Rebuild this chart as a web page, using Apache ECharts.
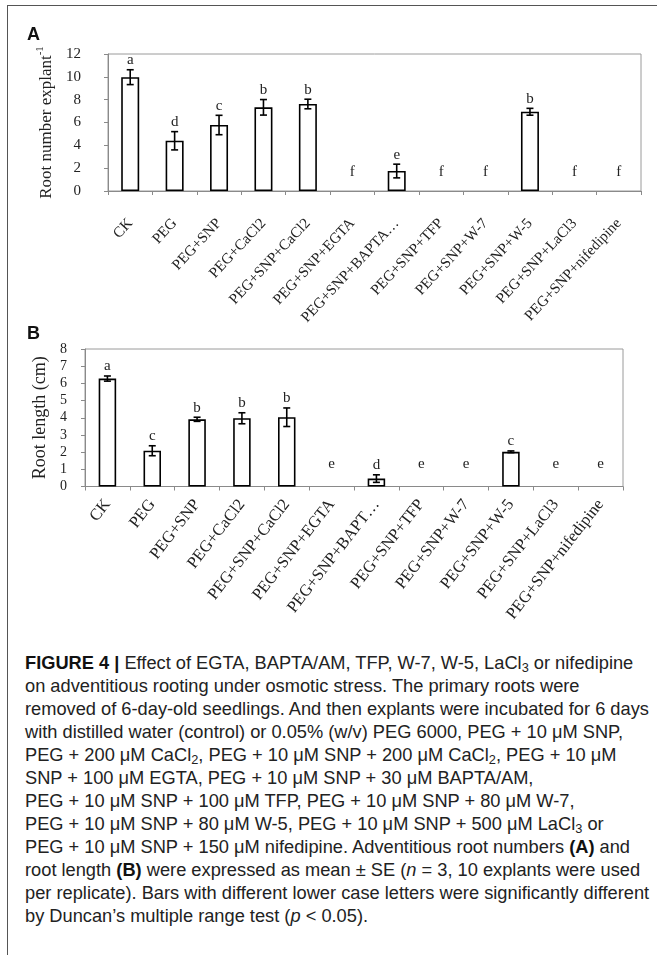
<!DOCTYPE html>
<html><head><meta charset="utf-8">
<script src="https://cdn.jsdelivr.net/npm/echarts@6/dist/echarts.min.js"></script>
<style>
html,body{margin:0;padding:0;background:#fff;}
#wrap{position:relative;width:657px;height:955px;overflow:hidden;background:#fff;}
#chart{position:absolute;left:0;top:0;width:657px;height:640px;}
#frameTop{position:absolute;left:7px;top:5px;width:650px;height:0;border-top:1.5px solid #555;}
#frameLeft{position:absolute;left:7px;top:5px;width:0;height:950px;border-left:1.5px solid #555;}
#caption{position:absolute;left:25px;top:651px;font-family:'Liberation Sans',Arial,sans-serif;font-size:16px;line-height:23px;color:#222;white-space:nowrap;}
#caption b{font-weight:bold;color:#111;}
#caption sub{font-size:0.7em;vertical-align:-3px;line-height:0;}
</style></head>
<body>
<div id="wrap">
<div id="chart"></div>
<div id="frameTop"></div>
<div id="frameLeft"></div>
<div id="caption">
<div><b>FIGURE 4 |</b> Effect of EGTA, BAPTA/AM, TFP, W-7, W-5, LaCl<sub>3</sub> or nifedipine</div>
<div>on adventitious rooting under osmotic stress. The primary roots were</div>
<div id="refLine">removed of 6-day-old seedlings. And then explants were incubated for 6 days</div>
<div>with distilled water (control) or 0.05% (w/v) PEG 6000, PEG + 10 μM SNP,</div>
<div>PEG + 200 μM CaCl<sub>2</sub>, PEG + 10 μM SNP + 200 μM CaCl<sub>2</sub>, PEG + 10 μM</div>
<div>SNP + 100 μM EGTA, PEG + 10 μM SNP + 30 μM BAPTA/AM,</div>
<div>PEG + 10 μM SNP + 100 μM TFP, PEG + 10 μM SNP + 80 μM W-7,</div>
<div>PEG + 10 μM SNP + 80 μM W-5, PEG + 10 μM SNP + 500 μM LaCl<sub>3</sub> or</div>
<div>PEG + 10 μM SNP + 150 μM nifedipine. Adventitious root numbers <b>(A)</b> and</div>
<div>root length <b>(B)</b> were expressed as mean ± SE (<i>n</i> = 3, 10 explants were used</div>
<div>per replicate). Bars with different lower case letters were significantly different</div>
<div>by Duncan’s multiple range test (<i>p</i> &lt; 0.05).</div>
</div>
</div>
<script>
// ---- data ----
const catsA = ['CK','PEG','PEG+SNP','PEG+CaCl2','PEG+SNP+CaCl2','PEG+SNP+EGTA','PEG+SNP+BAPTA…','PEG+SNP+TFP','PEG+SNP+W-7','PEG+SNP+W-5','PEG+SNP+LaCl3','PEG+SNP+nifedipine'];
const catsB = ['CK','PEG','PEG+SNP','PEG+CaCl2','PEG+SNP+CaCl2','PEG+SNP+EGTA','PEG+SNP+BAPT…','PEG+SNP+TFP','PEG+SNP+W-7','PEG+SNP+W-5','PEG+SNP+LaCl3','PEG+SNP+nifedipine'];
const valuesA = [9.97, 4.40, 5.78, 7.33, 7.62, 0, 1.75, 0, 0, 6.94, 0, 0];
const errA    = [0.65, 0.80, 0.85, 0.68, 0.42, 0, 0.60, 0, 0, 0.30, 0, 0];
const lettersA = ['a','d','c','b','b','f','e','f','f','b','f','f'];
const valuesB = [6.28, 2.08, 3.91, 3.97, 4.03, 0, 0.46, 0, 0, 2.02, 0, 0];
const errB    = [0.15, 0.29, 0.12, 0.32, 0.54, 0, 0.22, 0, 0, 0.05, 0, 0];
const lettersB = ['a','c','b','b','b','e','d','e','e','c','e','e'];
const yTicksA = {min:0, max:12, interval:2};
const yTicksB = {min:0, max:8, interval:1};
const yNameA = 'Root number explant';
const yNameASup = '-1';
const yNameB = 'Root length (cm)';

// ---- caption sizing: fit the widest reference line to the page width ----
(function(){
  const ref = document.getElementById('refLine');
  const cap = document.getElementById('caption');
  ref.style.display = 'inline-block';
  const w = ref.getBoundingClientRect().width;
  ref.style.display = '';
  const fs = 16 * 624 / w;
  cap.style.fontSize = fs.toFixed(2) + 'px';
})();

// ---- build ----
const SERIF = '"Liberation Serif","Times New Roman",serif';
const AX = '#8a8a8a';
function barData(vals){
  return vals.map(v => v === 0 ? {value:v, itemStyle:{borderWidth:0}} : {value:v});
}
function errData(vals, errs){ return vals.map((v,i)=>[i, v, errs[i]]); }
function makeErr(letters, zeroLift){
  return function(params, api){
    const i = api.value(0), v = api.value(1), e = api.value(2);
    const hi = api.coord([i, v+e]);
    const lo = api.coord([i, v-e]);
    const x = hi[0];
    const ch = [];
    const st = {stroke:'#000', lineWidth:1.6};
    if (e > 0){
      ch.push({type:'line', shape:{x1:x, y1:hi[1], x2:x, y2:lo[1]}, style:st});
      ch.push({type:'line', shape:{x1:x-3.5, y1:hi[1], x2:x+3.5, y2:hi[1]}, style:st});
      ch.push({type:'line', shape:{x1:x-3.5, y1:lo[1], x2:x+3.5, y2:lo[1]}, style:st});
    }
    const ty = (v > 0) ? hi[1] - 2 : hi[1] - zeroLift;
    ch.push({type:'text', style:{text:letters[params.dataIndex], x:x, y:ty, align:'center', verticalAlign:'bottom', font:'15px ' + SERIF, fill:'#222'}});
    return {type:'group', children:ch};
  };
}
function xAxis(cats, grid, margin, fs, rot){
  return {type:'category', gridIndex:grid, data:cats,
    axisLine:{show:true, lineStyle:{color:AX, width:1}},
    axisTick:{show:true, alignWithLabel:false, length:4, lineStyle:{color:AX}},
    axisLabel:{interval:0, rotate:rot, margin:margin, fontFamily:SERIF, fontSize:fs, color:'#222'},
    splitLine:{show:false}};
}
const option = {
  animation:false,
  graphic:[
    {type:'text', left:27, top:26, style:{text:'A', font:'bold 18px "Liberation Sans",Arial,sans-serif', fill:'#111'}},
    {type:'text', left:27, top:325, style:{text:'B', font:'bold 18px "Liberation Sans",Arial,sans-serif', fill:'#111'}}
  ],
  grid:[
    {left:108, top:54, width:533, height:137, show:true, borderColor:'#9a9a9a', borderWidth:1, backgroundColor:'transparent'},
    {left:85, top:349, width:538, height:137.5, show:true, borderColor:'#9a9a9a', borderWidth:1, backgroundColor:'transparent'}
  ],
  xAxis:[ xAxis(catsA, 0, 30, 15, 47), xAxis(catsB, 1, 15, 16.5, 52) ],
  yAxis:[
    {type:'value', gridIndex:0, min:yTicksA.min, max:yTicksA.max, interval:yTicksA.interval,
     axisLine:{show:true, lineStyle:{color:AX}}, axisTick:{show:true, length:4, lineStyle:{color:AX}},
     splitLine:{show:false}, axisLabel:{margin:27, fontFamily:SERIF, fontSize:15, color:'#222'},
     name:'{r|' + yNameA + '}{s|' + yNameASup + '}', nameLocation:'middle', nameRotate:90, nameGap:36,
     nameTextStyle:{fontFamily:SERIF, fontSize:17, color:'#222',
       rich:{r:{fontFamily:SERIF, fontSize:17, color:'#222', lineHeight:20, verticalAlign:'bottom'},
             s:{fontFamily:SERIF, fontSize:11, color:'#222', lineHeight:20, verticalAlign:'top'}}}},
    {type:'value', gridIndex:1, min:yTicksB.min, max:yTicksB.max, interval:yTicksB.interval,
     axisLine:{show:true, lineStyle:{color:AX}}, axisTick:{show:true, length:4, lineStyle:{color:AX}},
     splitLine:{show:false}, axisLabel:{margin:18, fontFamily:SERIF, fontSize:14, color:'#222'},
     name:yNameB, nameLocation:'middle', nameRotate:90, nameGap:34,
     nameTextStyle:{fontFamily:SERIF, fontSize:18, color:'#222'}}
  ],
  series:[
    {type:'bar', xAxisIndex:0, yAxisIndex:0, data:barData(valuesA), barWidth:18,
     itemStyle:{color:'#fff', borderColor:'#000', borderWidth:1.6}, silent:true},
    {type:'custom', xAxisIndex:0, yAxisIndex:0, data:errData(valuesA, errA), renderItem:makeErr(lettersA, 11), encode:{x:0, y:1}, z:5, silent:true},
    {type:'bar', xAxisIndex:1, yAxisIndex:1, data:barData(valuesB), barWidth:17.5,
     itemStyle:{color:'#fff', borderColor:'#000', borderWidth:1.6}, silent:true},
    {type:'custom', xAxisIndex:1, yAxisIndex:1, data:errData(valuesB, errB), renderItem:makeErr(lettersB, 15), encode:{x:0, y:1}, z:5, silent:true}
  ]
};
const chart = echarts.init(document.getElementById('chart'), null, {renderer:'canvas'});
chart.setOption(option);
</script>
</body></html>
